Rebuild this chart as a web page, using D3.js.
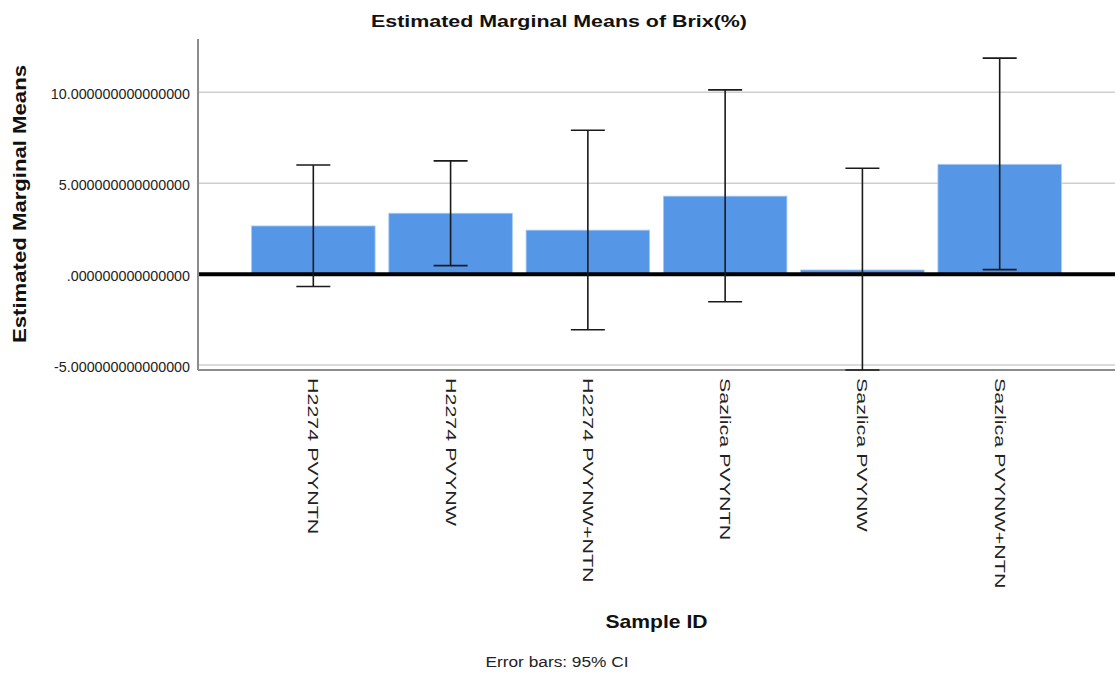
<!DOCTYPE html>
<html>
<head>
<meta charset="utf-8">
<script src="https://cdn.jsdelivr.net/npm/d3@7"></script>
<style>
  body { margin: 0; background: #fff; }
  text { font-family: Arial, "Liberation Sans", sans-serif; }
</style>
</head>
<body>
<script>
// Data
const categories = ["H2274 PVYNTN", "H2274 PVYNW", "H2274 PVYNW+NTN", "Sazlica PVYNTN", "Sazlica PVYNW", "Sazlica PVYNW+NTN"];
const means = [2.65, 3.35, 2.42, 4.29, 0.23, 6.04];
const lowerCI = [-0.68, 0.47, -3.06, -1.52, -5.27, 0.25];
const upperCI = [6.00, 6.23, 7.91, 10.13, 5.82, 11.88];
const yTicks = [-5, 0, 5, 10];
const yTickLabels = ["-5.000000000000000", ".000000000000000", "5.000000000000000", "10.000000000000000"];

const width = 1117;
const height = 678;
const plot = { left: 198, right: 1115, top: 39, bottom: 370 };

const svg = d3.select("body")
  .append("svg")
  .attr("width", width)
  .attr("height", height);

const x = d3.scaleBand()
  .domain(categories)
  .range([plot.left, plot.right])
  .paddingInner(0.1)
  .paddingOuter(0.39);

const y = d3.scaleLinear()
  .domain([-5.27, 12.93])
  .range([plot.bottom, plot.top]);

const data = categories.map((c, i) => ({
  cat: c, mean: means[i], lo: lowerCI[i], hi: upperCI[i]
}));

// stretch text along its reading direction
function stretch(sel, factor) {
  sel.each(function () {
    const len = this.getComputedTextLength();
    d3.select(this)
      .attr("textLength", len * factor)
      .attr("lengthAdjust", "spacingAndGlyphs");
  });
}

// gridlines (except zero)
svg.append("g")
  .selectAll("line")
  .data(yTicks.filter(t => t !== 0))
  .enter()
  .append("line")
  .attr("x1", plot.left)
  .attr("x2", plot.right)
  .attr("y1", d => y(d))
  .attr("y2", d => y(d))
  .attr("stroke", "#cfcfcf")
  .attr("stroke-width", 1.5);

// bars
svg.append("g")
  .selectAll("rect")
  .data(data)
  .enter()
  .append("rect")
  .attr("x", d => x(d.cat))
  .attr("width", x.bandwidth())
  .attr("y", d => y(Math.max(0, d.mean)))
  .attr("height", d => Math.abs(y(d.mean) - y(0)))
  .attr("fill", "#5596e6")
  .attr("stroke", "#a9ccf3")
  .attr("stroke-width", 0.8);

// zero line
svg.append("line")
  .attr("x1", plot.left)
  .attr("x2", plot.right)
  .attr("y1", y(0))
  .attr("y2", y(0))
  .attr("stroke", "#000")
  .attr("stroke-width", 4);

// axes frame
svg.append("line")
  .attr("x1", plot.left)
  .attr("x2", plot.left)
  .attr("y1", plot.top)
  .attr("y2", plot.bottom)
  .attr("stroke", "#8c8c8c")
  .attr("stroke-width", 2);

svg.append("line")
  .attr("x1", plot.left)
  .attr("x2", plot.right)
  .attr("y1", plot.bottom)
  .attr("y2", plot.bottom)
  .attr("stroke", "#8c8c8c")
  .attr("stroke-width", 2);

// error bars
const capHalf = 17;
const err = svg.append("g")
  .attr("stroke", "#1a1a1a")
  .attr("stroke-width", 1.6);

err.selectAll(".stem")
  .data(data)
  .enter()
  .append("line")
  .attr("x1", d => x(d.cat) + x.bandwidth() / 2)
  .attr("x2", d => x(d.cat) + x.bandwidth() / 2)
  .attr("y1", d => y(d.lo))
  .attr("y2", d => y(d.hi));

err.selectAll(".capHi")
  .data(data)
  .enter()
  .append("line")
  .attr("x1", d => x(d.cat) + x.bandwidth() / 2 - capHalf)
  .attr("x2", d => x(d.cat) + x.bandwidth() / 2 + capHalf)
  .attr("y1", d => y(d.hi))
  .attr("y2", d => y(d.hi));

err.selectAll(".capLo")
  .data(data)
  .enter()
  .append("line")
  .attr("x1", d => x(d.cat) + x.bandwidth() / 2 - capHalf)
  .attr("x2", d => x(d.cat) + x.bandwidth() / 2 + capHalf)
  .attr("y1", d => y(d.lo))
  .attr("y2", d => y(d.lo));

// y tick labels
svg.append("g")
  .selectAll("text")
  .data(yTicks)
  .enter()
  .append("text")
  .attr("x", plot.left - 8)
  .attr("y", d => y(d) + 2)
  .attr("dy", "0.35em")
  .attr("text-anchor", "end")
  .attr("font-size", 14.3)
  .attr("fill", "#222")
  .text((d, i) => yTickLabels[i]);

// x tick labels (rotated)
svg.append("g")
  .selectAll("text")
  .data(categories)
  .enter()
  .append("text")
  .attr("transform", d => `translate(${x(d) + x.bandwidth() / 2},${plot.bottom + 8}) rotate(90)`)
  .attr("dy", "0.35em")
  .attr("font-size", 14.5)
  .attr("fill", "#222")
  .text(d => d)
  .call(stretch, 1.48);

// title
svg.append("text")
  .attr("x", 559)
  .attr("y", 27)
  .attr("text-anchor", "middle")
  .attr("font-size", 17)
  .attr("font-weight", "bold")
  .attr("fill", "#111")
  .text("Estimated Marginal Means of Brix(%)")
  .attr("textLength", 376)
  .attr("lengthAdjust", "spacingAndGlyphs");

// y axis title
svg.append("text")
  .attr("transform", `translate(26,204) rotate(-90)`)
  .attr("text-anchor", "middle")
  .attr("font-size", 19)
  .attr("font-weight", "bold")
  .attr("fill", "#111")
  .text("Estimated Marginal Means")
  .attr("textLength", 278)
  .attr("lengthAdjust", "spacingAndGlyphs");

// x axis title
svg.append("text")
  .attr("x", (plot.left + plot.right) / 2)
  .attr("y", 628)
  .attr("text-anchor", "middle")
  .attr("font-size", 19)
  .attr("font-weight", "bold")
  .attr("fill", "#111")
  .text("Sample ID")
  .attr("textLength", 102)
  .attr("lengthAdjust", "spacingAndGlyphs");

// footnote
svg.append("text")
  .attr("x", 557)
  .attr("y", 667)
  .attr("text-anchor", "middle")
  .attr("font-size", 14)
  .attr("fill", "#222")
  .text("Error bars: 95% CI")
  .attr("textLength", 143)
  .attr("lengthAdjust", "spacingAndGlyphs");
</script>
</body>
</html>
